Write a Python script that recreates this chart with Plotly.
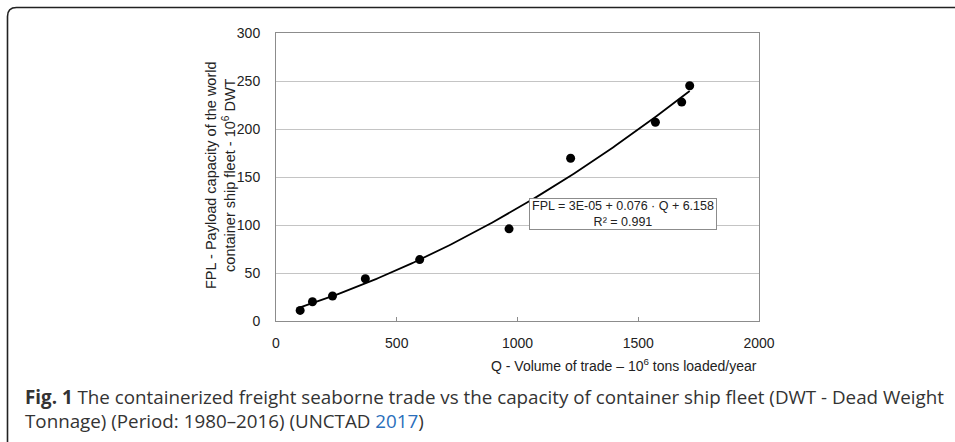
import numpy as np
import plotly.graph_objects as go

# ---- data ----
Q = [100, 151, 234, 370, 595, 965, 1220, 1571, 1680, 1713]
FPL = [11, 20, 26, 44, 64, 96, 169.5, 207, 228, 245]
x_ticks = [0, 500, 1000, 1500, 2000]
y_ticks = [0, 50, 100, 150, 200, 250, 300]
equation_text = "FPL = 3E-05 + 0.076 · Q + 6.158"
r2_text = "R² = 0.991"
x_title = "Q - Volume of trade – 10<sup>6</sup> tons loaded/year"
y_title = "FPL - Payload capacity of the world<br>container ship fleet - 10<sup>6</sup> DWT"
caption_1 = "<b>Fig. 1</b> The containerized freight seaborne trade vs the capacity of container ship fleet (DWT - Dead Weight"
caption_2 = "Tonnage) (Period: 1980–2016) (UNCTAD <span style='color:#2a6ebb'>2017</span>)"

# second-order polynomial trendline fitted to the points (as the Excel trendline)
coef = np.polyfit(Q, FPL, 2)
q_fit = np.linspace(min(Q), max(Q), 200)
fpl_fit = np.polyval(coef, q_fit)

W, H = 955, 442
L, R, T, B = 276, 196, 33, 121
PW, PH = W - L - R, H - T - B


def px(x):
    return (x - L) / PW


def py(y):
    return (H - B - y) / PH


FONT = "Liberation Sans, Arial, Helvetica, sans-serif"
CAP_FONT = "Open Sans, Noto Sans, sans-serif"

fig = go.Figure()
fig.add_trace(go.Scatter(x=q_fit, y=fpl_fit, mode="lines",
                         line=dict(color="black", width=1.8), hoverinfo="skip"))
fig.add_trace(go.Scatter(x=Q, y=FPL, mode="markers",
                         marker=dict(color="black", size=9)))

fig.update_layout(
    width=W, height=H, autosize=False,
    margin=dict(l=L, r=R, t=T, b=B, pad=0),
    paper_bgcolor="white", plot_bgcolor="white",
    showlegend=False,
    font=dict(family=FONT, size=14, color="#222"),
    xaxis=dict(range=[0, 2000], tickvals=x_ticks, showgrid=False, zeroline=False,
               showline=True, linecolor="#8c8c8c", linewidth=1, mirror=True,
               ticks="inside", ticklen=4, tickcolor="#8c8c8c",
               ticklabelstandoff=9, tickfont=dict(size=14, family=FONT, color="#222")),
    yaxis=dict(range=[0, 300], tickvals=y_ticks, showgrid=True, gridcolor="#c4c4c4",
               gridwidth=1, zeroline=False,
               showline=True, linecolor="#8c8c8c", linewidth=1, mirror=True,
               ticks="", ticklabelstandoff=12,
               tickfont=dict(size=14, family=FONT, color="#222")),
)

annotations = [
    dict(text=equation_text + "<br>" + r2_text, x=px(623), y=py(214), xref="paper", yref="paper",
         showarrow=False, xanchor="center", yanchor="middle", align="center",
         width=186, height=30, bgcolor="white", bordercolor="#8c8c8c", borderwidth=1, borderpad=0,
         font=dict(family=FONT, size=12.5, color="#222")),
    dict(text=x_title, x=px(624), y=py(365), xref="paper", yref="paper", showarrow=False,
         xanchor="center", yanchor="middle", font=dict(family=FONT, size=14, color="#222")),
    dict(text=y_title, x=px(220), y=py(175), xref="paper", yref="paper", showarrow=False,
         textangle=-90, xanchor="center", yanchor="middle", align="center",
         font=dict(family=FONT, size=14.5, color="#222")),
    dict(text=caption_1 + "<br>" + caption_2, x=px(23), y=py(408.5), xref="paper", yref="paper",
         showarrow=False, xanchor="left", yanchor="middle", align="left",
         font=dict(family=CAP_FONT, size=18.8, color="#333")),
]
fig.update_layout(annotations=annotations)

# figure frame: left and top edges with rounded top-left corner
r = 9
x0, y0 = 7.5, 7.5
path = (f"M {px(x0)},{py(450)} L {px(x0)},{py(y0 + r)} "
        f"Q {px(x0)},{py(y0)} {px(x0 + r)},{py(y0)} L {px(970)},{py(y0)}")
fig.add_shape(type="path", path=path, xref="paper", yref="paper",
              line=dict(color="#222", width=1.6), layer="above")

fig.write_html("out.html", config={"displayModeBar": False},
               post_script="document.body.style.margin='0';document.body.style.overflow='hidden';")
